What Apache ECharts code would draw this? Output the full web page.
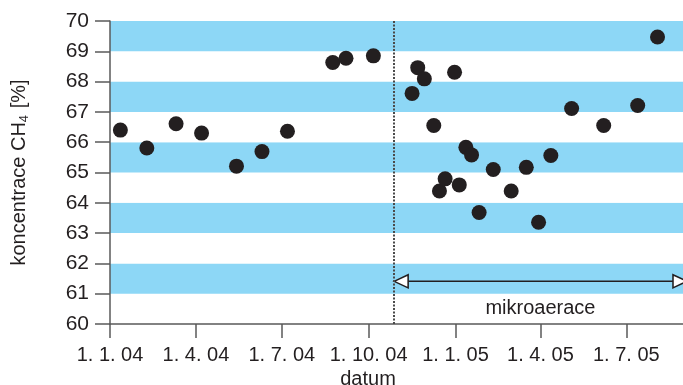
<!DOCTYPE html>
<html>
<head>
<meta charset="utf-8">
<script src="https://cdn.jsdelivr.net/npm/echarts@6/dist/echarts.min.js"></script>
<style>
  html, body { margin: 0; padding: 0; background: #fff; }
  #chart { width: 683px; height: 385px; }
</style>
</head>
<body>
<div id="chart"></div>
<script>
// data
const dates = [
  '2004-01-12', '2004-02-09', '2004-03-11', '2004-04-07', '2004-05-14', '2004-06-10',
  '2004-07-07', '2004-08-24', '2004-09-07', '2004-10-06', '2004-11-16', '2004-11-22',
  '2004-11-29', '2004-12-09', '2004-12-15', '2004-12-21', '2004-12-31', '2005-01-05',
  '2005-01-12', '2005-01-18', '2005-01-26', '2005-02-10', '2005-03-01', '2005-03-17',
  '2005-03-30', '2005-04-12', '2005-05-04', '2005-06-07', '2005-07-13', '2005-08-03'
];
const ch4 = [
  66.40, 65.81, 66.61, 66.30, 65.21, 65.69,
  66.36, 68.63, 68.77, 68.85, 67.61, 68.46,
  68.09, 66.55, 64.39, 64.79, 68.31, 64.59,
  65.83, 65.58, 63.68, 65.10, 64.39, 65.17,
  63.36, 65.56, 67.11, 66.55, 67.21, 69.47
];
const tickDates = ['2004-01-01', '2004-04-01', '2004-07-01', '2004-10-01', '2005-01-01', '2005-04-01', '2005-07-01'];
const xRange = ['2004-01-01', '2005-08-30'];
const startDate = '2004-10-28';   // dotted line, start of microaeration
const arrowLevel = 61.41;
const labelPos = ['2005-04-01', 60.52];
const labelText = 'mikroaerace';

const toTime = s => { const p = s.split('-').map(Number); return new Date(p[0], p[1] - 1, p[2]).getTime(); };
const fmt = v => { const d = new Date(v); return d.getDate() + '. ' + (d.getMonth() + 1) + '. ' + String(d.getFullYear()).slice(2); };

const font = '"Liberation Sans", Arial, Helvetica, sans-serif';
const ink = '#231f20';
const axisGray = '#5a5a5a';

const chart = echarts.init(document.getElementById('chart'));
chart.setOption({
  animation: false,
  textStyle: { fontFamily: font },
  grid: { left: 110, right: 0, top: 21, bottom: 61, outerBoundsMode: 'none', containLabel: false },
  xAxis: {
    type: 'value',
    min: toTime(xRange[0]),
    max: toTime(xRange[1]),
    name: 'datum',
    nameLocation: 'middle',
    nameGap: 42,
    nameTextStyle: { fontSize: 20, color: ink, fontFamily: font, padding: [0, 57, 0, 0] },
    axisLine: { show: true, lineStyle: { color: axisGray, width: 1.5 } },
    axisTick: { show: true, length: 14, customValues: tickDates.map(toTime), lineStyle: { color: axisGray, width: 1.5 } },
    axisLabel: {
      customValues: tickDates.map(toTime),
      formatter: fmt,
      fontSize: 20, color: ink, fontFamily: font, margin: 21, hideOverlap: false
    },
    splitLine: { show: false }
  },
  yAxis: {
    type: 'value',
    min: 60, max: 70, interval: 1,
    name: 'koncentrace CH{sub|4} [%]',
    nameLocation: 'middle',
    nameGap: 79,
    nameTextStyle: {
      fontSize: 20, color: ink, fontFamily: font,
      rich: { sub: { fontSize: 13, color: ink, fontFamily: font, padding: [11, 1, 0, 0] } }
    },
    axisLine: { show: true, lineStyle: { color: axisGray, width: 1.5 } },
    axisTick: { show: true, length: 15, lineStyle: { color: axisGray, width: 1.5 } },
    axisLabel: { fontSize: 21, color: ink, fontFamily: font, margin: 21 },
    splitLine: { show: false },
    splitArea: { show: true, areaStyle: { color: ['#ffffff', '#8dd7f6'] } }
  },
  series: [
    {
      type: 'scatter',
      data: dates.map((d, i) => [toTime(d), ch4[i]]),
      symbolSize: 15,
      itemStyle: { color: ink, opacity: 1 },
      z: 5,
      markLine: {
        silent: true,
        symbol: 'none',
        label: { show: false },
        lineStyle: { color: '#4a4a4a', type: [2, 1.5], width: 2 },
        data: [{ xAxis: toTime(startDate) }]
      }
    },
    {
      type: 'line',
      data: [
        { value: [toTime(startDate), arrowLevel], symbol: 'triangle', symbolRotate: 90, symbolOffset: [7, 0] },
        { value: [toTime(xRange[1]), arrowLevel], symbol: 'triangle', symbolRotate: -90, symbolOffset: [-3, 0] }
      ],
      symbolSize: [13, 14],
      showSymbol: true,
      lineStyle: { color: ink, width: 1.5 },
      itemStyle: { color: '#ffffff', borderColor: ink, borderWidth: 1.5 },
      z: 4
    },
    {
      type: 'scatter',
      data: [labelPos.map((v, i) => i === 0 ? toTime(v) : v)],
      symbolSize: 0,
      itemStyle: { opacity: 1 },
      label: { show: true, position: 'inside', formatter: labelText, fontSize: 20, color: ink, fontFamily: font },
      z: 4
    }
  ]
});
</script>
</body>
</html>
